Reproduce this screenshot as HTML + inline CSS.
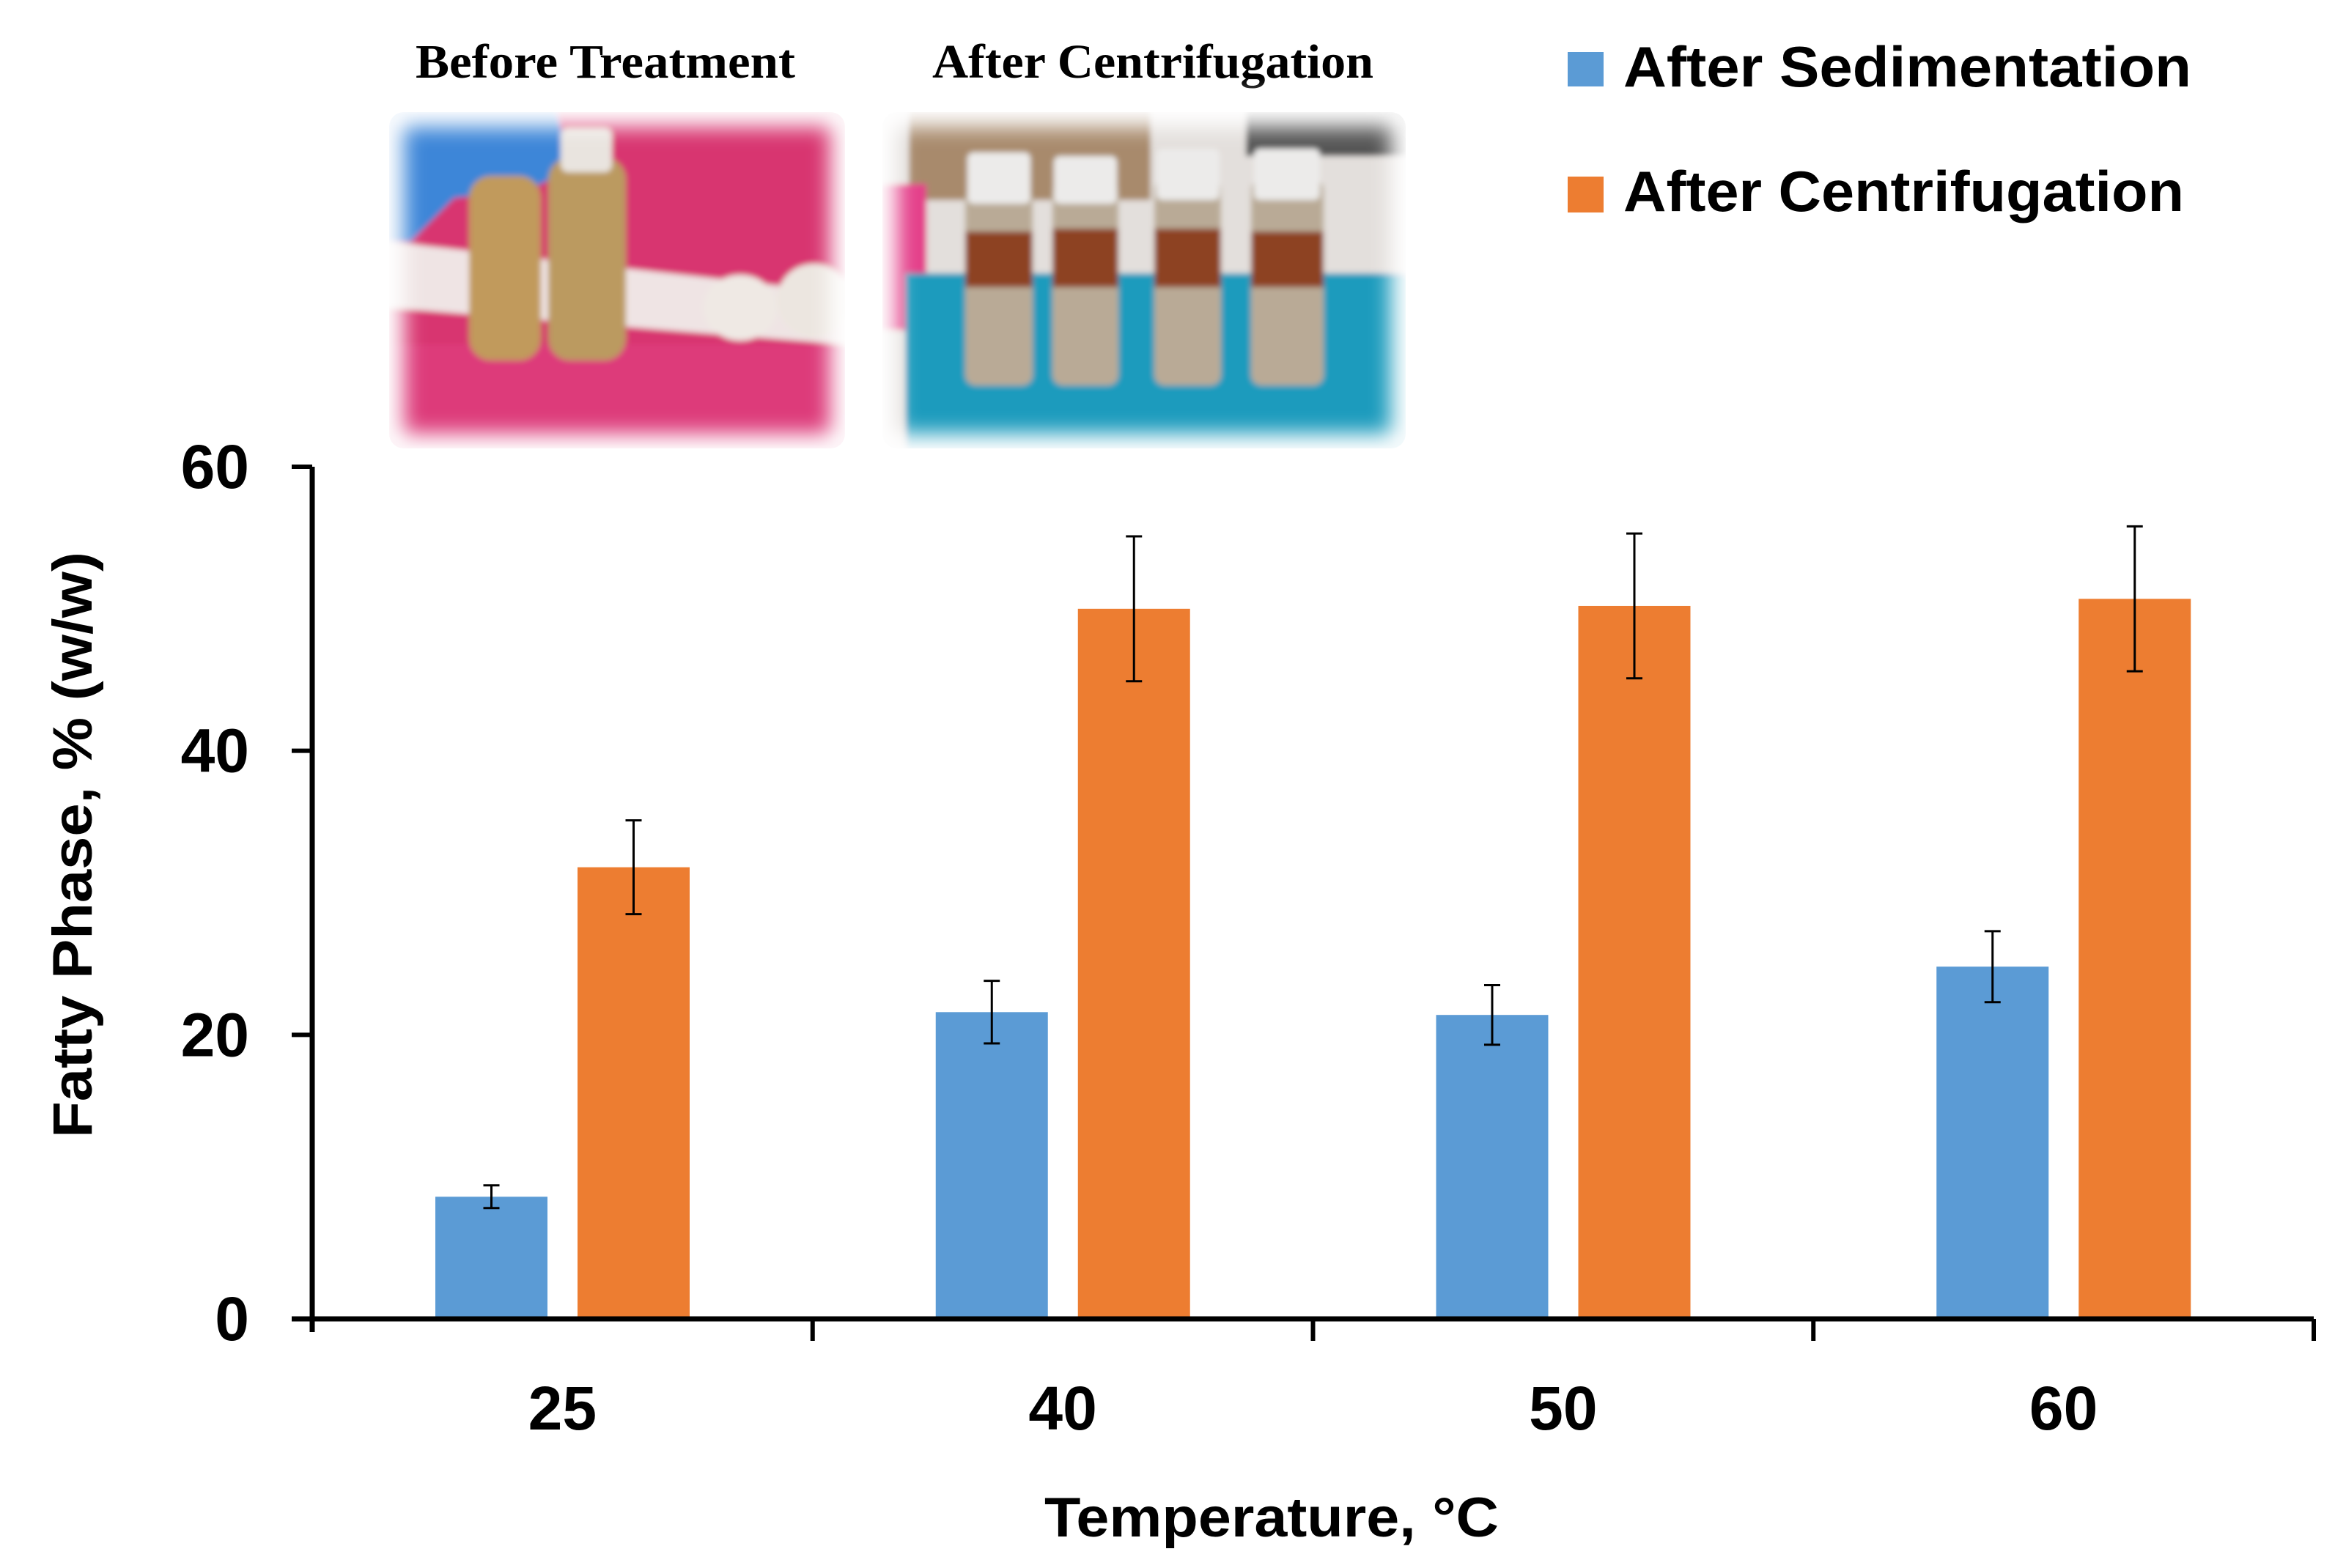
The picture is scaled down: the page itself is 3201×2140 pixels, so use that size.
<!DOCTYPE html>
<html><head><meta charset="utf-8"><style>
html,body{margin:0;padding:0;background:#fff;}
svg{display:block;}
</style></head><body>
<svg id="chart" width="3201" height="2140" viewBox="0 0 3201 2140" xmlns="http://www.w3.org/2000/svg">
<defs>
<filter id="soft" x="-5%" y="-5%" width="110%" height="110%"><feGaussianBlur stdDeviation="4"/></filter>
<filter id="edge" x="-10%" y="-10%" width="120%" height="120%"><feGaussianBlur stdDeviation="14"/></filter>
<clipPath id="c1"><rect x="531" y="153" width="622" height="459" rx="20"/></clipPath>
<clipPath id="c2"><rect x="1204" y="153" width="714" height="459" rx="20"/></clipPath>
</defs>

<text x="826" y="106" text-anchor="middle" font-family="Liberation Serif, serif" font-weight="bold" font-size="66" textLength="518" lengthAdjust="spacingAndGlyphs">Before Treatment</text>
<text x="1573" y="106" text-anchor="middle" font-family="Liberation Serif, serif" font-weight="bold" font-size="66" textLength="602" lengthAdjust="spacingAndGlyphs">After Centrifugation</text>

<g clip-path="url(#c1)">
<g filter="url(#soft)">
<rect x="531" y="153" width="622" height="459" fill="#d8366f"/>
<polygon points="531,330 1153,400 1153,470 531,420" fill="#efe4e4"/>
<rect x="531" y="470" width="622" height="142" fill="#dd3a7a"/>
<path d="M531,153 L760,153 L780,230 L720,260 L620,270 L560,330 L531,330Z" fill="#3d86d8"/>
<rect x="640" y="240" width="98" height="252" rx="30" fill="#c19a5c"/>
<rect x="748" y="215" width="106" height="277" rx="30" fill="#bb9a60"/>
<rect x="765" y="175" width="70" height="60" rx="10" fill="#e9e4df"/>
<ellipse cx="1010" cy="420" rx="50" ry="45" fill="#efe9e4"/>
<ellipse cx="1110" cy="410" rx="50" ry="50" fill="#ece6e0"/>
</g>
</g>
<rect x="531" y="153" width="622" height="459" fill="none" stroke="#fff" stroke-width="40" filter="url(#edge)"/>

<g clip-path="url(#c2)">
<g filter="url(#soft)">
<rect x="1204" y="153" width="714" height="459" fill="#e3dfdc"/>
<rect x="1240" y="153" width="330" height="120" fill="#a88a6c"/>
<rect x="1700" y="153" width="218" height="60" fill="#555"/>
<rect x="1204" y="251" width="60" height="200" fill="#e4408a"/>
<rect x="1235" y="373" width="683" height="239" fill="#1f9bbd"/>
<g fill="#b9aa96">
<rect x="1317" y="260" width="92" height="266" rx="14"/>
<rect x="1436" y="250" width="90" height="276" rx="14"/>
<rect x="1575" y="245" width="91" height="281" rx="14"/>
<rect x="1707" y="245" width="99" height="281" rx="14"/>
</g>
<g fill="#8d4320">
<rect x="1317" y="316" width="92" height="76"/>
<rect x="1436" y="312" width="90" height="80"/>
<rect x="1575" y="312" width="91" height="80"/>
<rect x="1707" y="316" width="99" height="76"/>
</g>
<g fill="#ecebea">
<rect x="1320" y="208" width="86" height="70" rx="8"/>
<rect x="1438" y="213" width="86" height="65" rx="8"/>
<rect x="1578" y="203" width="86" height="70" rx="8"/>
<rect x="1711" y="203" width="90" height="70" rx="8"/>
</g>
</g>
</g>
<rect x="1204" y="153" width="714" height="459" fill="none" stroke="#fff" stroke-width="40" filter="url(#edge)"/>

<rect x="2139" y="71" width="49" height="47" fill="#5b9bd5"/>
<text x="2215" y="118" font-family="Liberation Sans, sans-serif" font-weight="bold" font-size="78" textLength="775" lengthAdjust="spacingAndGlyphs">After Sedimentation</text>
<rect x="2139" y="241" width="49" height="49" fill="#ed7d31"/>
<text x="2215" y="288" font-family="Liberation Sans, sans-serif" font-weight="bold" font-size="78" textLength="765" lengthAdjust="spacingAndGlyphs">After Centrifugation</text>

<g id="plot"></g>

<text x="1735" y="2097" text-anchor="middle" font-family="Liberation Sans, sans-serif" font-weight="bold" font-size="76" textLength="620" lengthAdjust="spacingAndGlyphs">Temperature, °C</text>
<text transform="translate(125,1153) rotate(-90)" text-anchor="middle" font-family="Liberation Sans, sans-serif" font-weight="bold" font-size="76" textLength="800" lengthAdjust="spacingAndGlyphs">Fatty Phase, % (w/w)</text>
</svg>
<script>
const categories = ["25", "40", "50", "60"];
const sedimentation = [8.6, 21.6, 21.4, 24.8];
const sedimentationErr = [0.8, 2.2, 2.1, 2.5];
const centrifugation = [31.8, 50.0, 50.2, 50.7];
const centrifugationErr = [3.3, 5.1, 5.1, 5.1];
const yTicks = [0, 20, 40, 60];

const NS = "http://www.w3.org/2000/svg";
const plot = document.getElementById('plot');
const X0 = 426, X1 = 3157, Y0 = 1800, Y60 = 637;
const catW = (X1 - X0) / categories.length;
function yScale(v){ return Y0 - (v / 60) * (Y0 - Y60); }
function xCat(i){ return X0 + i * catW; }
function mk(tag, attrs){ const e = document.createElementNS(NS, tag); for (const k in attrs) e.setAttribute(k, attrs[k]); plot.appendChild(e); return e; }

const barW = 153;
function drawSeries(vals, errs, off, color, name){
  vals.forEach((v, i) => {
    const x = xCat(i) + off;
    const r = mk('rect', {x: x, y: yScale(v), width: barW, height: Y0 - yScale(v), fill: color});
    
    
    const cx = x + barW / 2;
    const e = mk('path', {d: `M${cx},${yScale(v + errs[i])}V${yScale(v - errs[i])}M${cx-11},${yScale(v + errs[i])}h22M${cx-11},${yScale(v - errs[i])}h22`, stroke: '#000', 'stroke-width': 3, fill: 'none'});
    
    
  });
}
drawSeries(sedimentation, sedimentationErr, 168, '#5b9bd5', 'sedimentation');
drawSeries(centrifugation, centrifugationErr, 362, '#ed7d31', 'centrifugation');

const ya = mk('line', {x1: X0, y1: Y60, x2: X0, y2: Y0 + 18, stroke: '#000', 'stroke-width': 7});


const xa = mk('line', {x1: X0 - 28, y1: Y0, x2: X1, y2: Y0, stroke: '#000', 'stroke-width': 7});



yTicks.forEach(t => {
  const tk = mk('line', {x1: X0 - 28, y1: yScale(t), x2: X0, y2: yScale(t), stroke: '#000', 'stroke-width': 6});
  
  
  const lb = mk('text', {x: 340, y: yScale(t) + 29, 'text-anchor': 'end', 'font-family': 'Liberation Sans, sans-serif', 'font-weight': 'bold', 'font-size': 84});
  lb.textContent = t;
  
  
});
for (let i = 1; i <= categories.length; i++) {
  const tk = mk('line', {x1: xCat(i), y1: Y0, x2: xCat(i), y2: Y0 + 30, stroke: '#000', 'stroke-width': 6});
  
  
}
categories.forEach((c, i) => {
  const lb = mk('text', {x: xCat(i) + catW / 2, y: 1951, 'text-anchor': 'middle', 'font-family': 'Liberation Sans, sans-serif', 'font-weight': 'bold', 'font-size': 84});
  lb.textContent = c;
  
  
});
</script>
</body></html>
